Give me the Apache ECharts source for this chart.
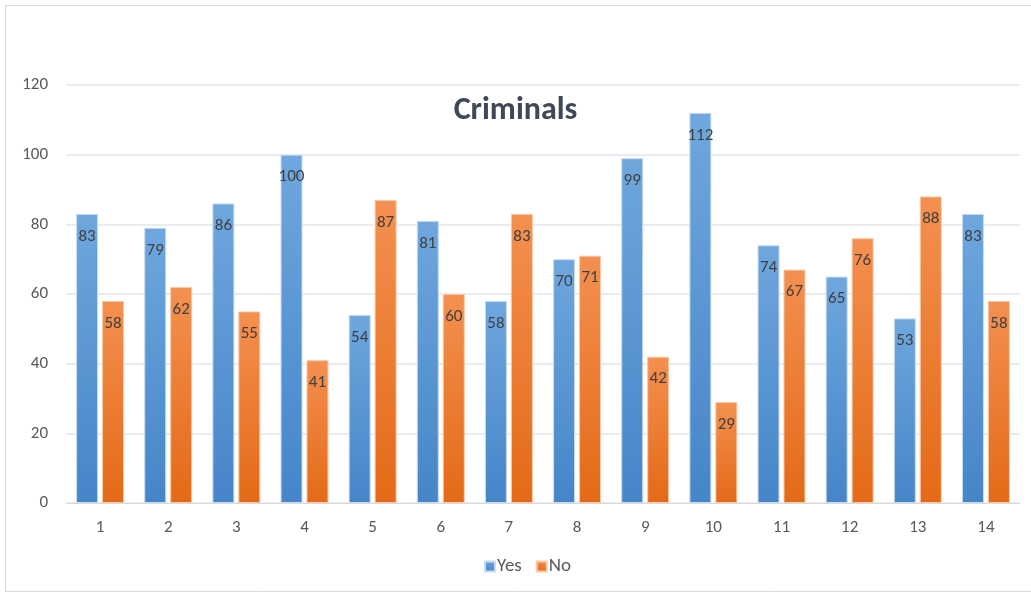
<!DOCTYPE html>
<html>
<head>
<meta charset="utf-8">
<script src="https://cdn.jsdelivr.net/npm/echarts@6/dist/echarts.min.js"></script>
<style>html,body{margin:0;padding:0;background:#fff}#c{width:1031px;height:594px}</style>
</head>
<body>
<div id="c"></div>
<script>
const categories = ['1','2','3','4','5','6','7','8','9','10','11','12','13','14'];
const yesValues = [83,79,86,100,54,81,58,70,99,112,74,65,53,83];
const noValues = [58,62,55,41,87,60,83,71,42,29,67,76,88,58];
const seriesNames = ['Yes','No'];
const yTicks = {min:0, max:120, interval:20};

const chart = echarts.init(document.getElementById('c'), null, {renderer:'canvas'});
const font = 'Calibri, Carlito, "Open Sans", "Liberation Sans", sans-serif';
function grad(top, bottom){
  return new echarts.graphic.LinearGradient(0,0,0,1,[{offset:0,color:top},{offset:1,color:bottom}]);
}
const labelCfg = {show:true, position:'insideTop', distance:14, color:'#404040', fontSize:17, fontFamily:font};
chart.setOption({
  animation:false,
  graphic:[{type:'rect', shape:{x:5.5,y:5.5,width:1040,height:586}, style:{fill:'none', stroke:'#d9d9d9', lineWidth:1}, silent:true}],
  title:{text:'Criminals', left:'center', top:90, textStyle:{fontSize:32, fontWeight:'bold', color:'#404857', fontFamily:font}},
  legend:{bottom:13, left:479, itemWidth:10, itemHeight:10, itemGap:14, icon:'rect',
    textStyle:{fontSize:19, color:'#595959', fontFamily:font, padding:[0,0,0,-3]}},
  grid:{left:66, right:11, top:85, bottom:91, containLabel:false},
  xAxis:{type:'category', data:categories,
    axisLine:{show:true, lineStyle:{color:'#d9d9d9'}}, axisTick:{show:false},
    axisLabel:{color:'#595959', fontSize:17, fontFamily:font, margin:16}},
  yAxis:{type:'value', min:yTicks.min, max:yTicks.max, interval:yTicks.interval,
    axisLine:{show:false}, axisTick:{show:false},
    splitLine:{lineStyle:{color:'#e3e6ec', width:1.5}},
    axisLabel:{color:'#595959', fontSize:17, fontFamily:font, margin:18}},
  series:[
    {name:seriesNames[0], type:'bar', data:yesValues, barWidth:22, barGap:'18%',
      itemStyle:{color:grad('#6FA7DE','#4585C8'), borderColor:'#c9dcf0', borderWidth:1},
      label:labelCfg},
    {name:seriesNames[1], type:'bar', data:noValues, barWidth:22,
      itemStyle:{color:grad('#F49050','#E36A17'), borderColor:'#f7c9a8', borderWidth:1},
      label:labelCfg}
  ],
  color:['#5B9BD5','#ED7D31']
});
</script>
</body>
</html>
